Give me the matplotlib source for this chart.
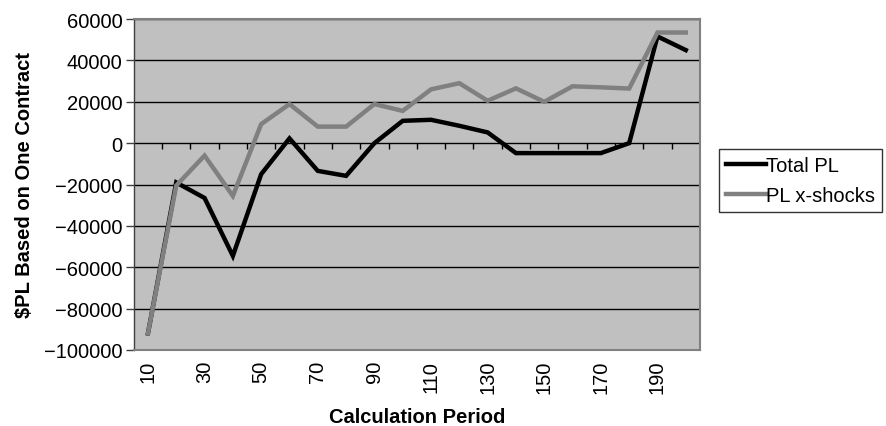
import numpy as np
import matplotlib
matplotlib.use("Agg")
import matplotlib.pyplot as plt

plt.rcParams['font.family'] = ['Liberation Sans', 'DejaVu Sans']

periods = [10, 20, 30, 40, 50, 60, 70, 80, 90, 100,
           110, 120, 130, 140, 150, 160, 170, 180, 190, 200]
total_pl = [-92000, -19000, -26500, -54500, -15000, 2300, -13400, -15800, 0, 10800,
            11300, 8400, 5200, -4800, -4800, -4800, -4800, 0, 51600, 45000]
pl_xshocks = [-92000, -20500, -6000, -25500, 9200, 18900, 8000, 8000, 18900, 15600,
              26000, 29000, 20500, 26500, 20000, 27500, 27000, 26400, 53500, 53500]
yticks = [-100000, -80000, -60000, -40000, -20000, 0, 20000, 40000, 60000]

fs = 14.5

fig = plt.figure(figsize=(8.86, 4.27), dpi=100)
ax = fig.add_axes([0.151, 0.178, 0.639, 0.775])
ax.set_facecolor('#c0c0c0')

x = np.arange(len(periods))
ax.plot(x, total_pl, color='black', lw=3.2, label='Total PL', solid_joinstyle='miter', zorder=3)
ax.plot(x, pl_xshocks, color='#808080', lw=3.2, label='PL x-shocks', solid_joinstyle='miter', zorder=4)

ax.set_xlim(-0.5, len(periods) - 0.5)
ax.set_ylim(yticks[0], yticks[-1])
ax.set_yticks(yticks)
ax.set_yticklabels([f"{v}".replace('-', '\u2212') for v in yticks], fontsize=fs)
ax.tick_params(axis='y', direction='out', length=6, width=1, color='#404040', pad=2)
for v in yticks:
    ax.axhline(v, color='black', lw=1.0, zorder=1)

# category tick marks on the zero line
ax.vlines(x[:-1] + 0.5, -3000, 0, color='black', lw=1.0, zorder=2)

ax.set_xticks(x[::2])
ax.set_xticklabels([str(p) for p in periods[::2]], rotation=90, fontsize=fs)
ax.tick_params(axis='x', length=0, pad=7)

for s in ax.spines.values():
    s.set_color('#808080')
    s.set_linewidth(1.5)
ax.spines['left'].set_color('#404040')
ax.spines['left'].set_linewidth(1.0)

ax.set_ylabel('$PL Based on One Contract', fontsize=fs, fontweight='bold', labelpad=7)
ax.set_xlabel('Calculation Period', fontsize=fs, fontweight='bold', labelpad=10)

leg = fig.legend(loc='upper left', bbox_to_anchor=(719 / 886, 1 - 150 / 427), fontsize=fs,
                 frameon=True, fancybox=False, edgecolor='black', handlelength=2.0,
                 handletextpad=0.0, borderpad=0.35, labelspacing=0.55, borderaxespad=0)
leg.get_frame().set_linewidth(1.0)

fig.savefig('out.png', dpi=100)
